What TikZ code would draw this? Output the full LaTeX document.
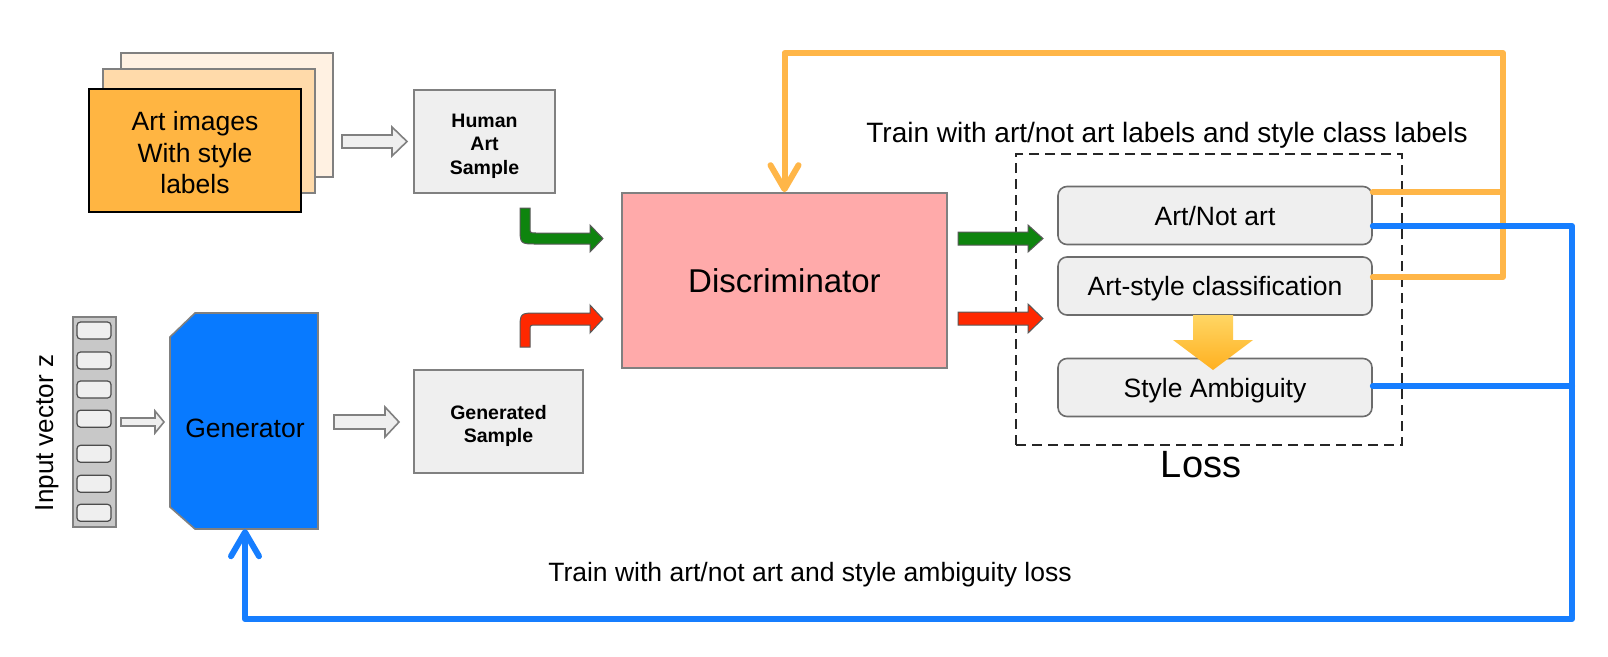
\documentclass[tikz,border=0pt]{standalone}
\usepackage{fontspec}
\setmainfont{Liberation Sans}
\usetikzlibrary{arrows.meta,calc}
\definecolor{gborder}{RGB}{128,128,128}
\definecolor{gfill}{RGB}{239,239,239}
\definecolor{cardA}{RGB}{255,241,226}
\definecolor{cardB}{RGB}{255,218,170}
\definecolor{cardC}{RGB}{255,181,66}
\definecolor{pinkD}{RGB}{255,170,170}
\definecolor{genblue}{RGB}{8,122,255}
\definecolor{lineblue}{RGB}{22,126,255}
\definecolor{lineorange}{RGB}{255,182,72}
\definecolor{arrgreen}{RGB}{14,132,14}
\definecolor{arrred}{RGB}{255,40,0}
\definecolor{vecgray}{RGB}{200,200,200}
\definecolor{blocktop}{RGB}{255,214,100}
\definecolor{blockbot}{RGB}{255,176,32}
\tikzset{
  card/.style={draw=gborder, line width=1.6pt, minimum width=212pt, minimum height=124pt, inner sep=0pt},
  samplebox/.style={draw=gborder, fill=gfill, line width=1.6pt, inner sep=0pt},
  sampletext/.style={align=center, inner sep=0pt, font=\fontsize{19.5}{23.5}\selectfont\bfseries},
  lossitem/.style={draw=gray!85!black, fill=gfill, line width=1.6pt, rounded corners=9pt,
    minimum width=314pt, minimum height=58pt, inner sep=0pt,
    font=\fontsize{26.5}{30}\selectfont, text height=19pt, text depth=0pt},
  hollow/.style={draw=gborder, fill=gfill, line width=1.6pt, line join=miter},
  bent/.style={draw=gray!70!black, line width=1pt},
  feedback/.style={line width=6pt, line join=round, line cap=round},
  chevron/.style={-{Straight Barb[length=24pt,width=28pt,line cap=round,line join=round]}},
  plain/.style={font=\fontsize{26.5}{30}\selectfont, inner sep=0pt},
  cell/.style={draw=black!70, fill=gfill, line width=1.2pt, rounded corners=3.5pt,
    minimum width=34pt, minimum height=17pt, inner sep=0pt}
}
\begin{document}
\begin{tikzpicture}[x=1pt,y=-1pt]
\useasboundingbox[fill=white] (0,0) rectangle (1608,656);

% stacked art cards
\node[card, fill=cardA] (cardback) at (227,115) {};
\node[card, fill=cardB] (cardmid) at (209,131) {};
\node[card, fill=cardC, draw=black, line width=2.4pt, minimum height=123pt] (cards) at (195,150.5) {};
\node[align=center, inner sep=0pt, font=\fontsize{26.5}{31.5}\selectfont] (cardtext) at (195,153) {Art images\\With style\\labels};

% sample boxes
\node[samplebox, minimum width=141pt, minimum height=103pt] (human) at (484.5,141.5) {};
\node[sampletext] (humantext) at (484.5,146) {Human\\Art\\Sample};
\node[samplebox, minimum width=169pt, minimum height=103pt] (generated) at (498.5,421.5) {};
\node[sampletext] (gentext2) at (498.5,426) {Generated\\Sample};

% discriminator
\node[draw=gborder, fill=pinkD, line width=1.6pt, minimum width=325pt, minimum height=175pt,
  font=\fontsize{33}{36}\selectfont, text height=23.6pt, text depth=0pt] (disc) at (784.5,280.5) {Discriminator};

% input vector
\node[draw=gborder, fill=vecgray, line width=1.6pt, minimum width=43pt, minimum height=210pt, inner sep=0pt] (vec) at (94.5,422) {};
\foreach \yy [count=\i] in {330.5,360.5,389.5,418.7,453.8,483.8,512.8}
  \node[cell] (cell\i) at (94,\yy) {};
\node[plain, rotate=90, font=\fontsize{26}{30}\selectfont] (veclabel) at (47,433) {Input vector z};

% generator
\node[minimum width=148pt, minimum height=216pt, inner sep=0pt] (gen) at (244,421) {};
\draw[draw=gborder, fill=genblue, line width=1.6pt]
  (195,313) -- (318,313) -- (318,529) -- (195,529) -- (170,507) -- (170,337) -- cycle;
\node[plain, text height=19pt, text depth=0pt] (gentext) at (245,427.5) {Generator};

% hollow arrows
\draw[hollow] (342,135) -- (392,135) -- (392,127) -- (407,141.5) -- (392,156) -- (392,148) -- (342,148) -- cycle;
\draw[hollow] (121,418) -- (155,418) -- (155,411) -- (164,422) -- (155,433) -- (155,426) -- (121,426) -- cycle;
\draw[hollow] (334,415) -- (385,415) -- (385,407) -- (399,422) -- (385,437) -- (385,429) -- (334,429) -- cycle;

% bent arrows into discriminator
\draw[bent, fill=arrgreen] (520,208) -- (530,208) -- (530,227) .. controls (530,233) .. (536,233)
  -- (590,233) -- (590,225) -- (603,238.5) -- (590,252) -- (590,244) -- (537,244)
  .. controls (520,244) .. (520,227) -- cycle;
\draw[bent, fill=arrred] (520,347) -- (520,330) .. controls (520,313) .. (537,313)
  -- (590,313) -- (590,305) -- (603,319) -- (590,333) -- (590,325) -- (536,325)
  .. controls (530,325) .. (530,331) -- (530,347) -- cycle;

% loss region
\node[draw=black!85, line width=2.4pt, dash pattern=on 10pt off 6pt, minimum width=386pt,
  minimum height=291pt, inner sep=0pt] (lossbox) at (1209,299.5) {};
\node[lossitem] (notart) at (1215,215.5) {Art/Not art};
\node[lossitem] (artstyle) at (1215,286) {Art-style classification};
\node[lossitem] (ambig) at (1215,387.5) {Style Ambiguity};
\node[plain, font=\fontsize{38}{42}\selectfont, text height=27pt, text depth=0pt] (losslabel) at (1201,464) {Loss};

% straight arrows out of discriminator
\draw[bent, fill=arrgreen] (958,232) -- (1028,232) -- (1028,225) -- (1043,238.5) -- (1028,252) -- (1028,245) -- (958,245) -- cycle;
\draw[bent, fill=arrred] (958,312) -- (1028,312) -- (1028,304) -- (1043,318.5) -- (1028,333) -- (1028,325) -- (958,325) -- cycle;

% yellow block arrow
\shade[top color=blocktop, bottom color=blockbot, draw=none]
  (1193,315) -- (1233,315) -- (1233,340) -- (1253,340) -- (1213,370) -- (1173,340) -- (1193,340) -- cycle;
\node[lossitem, draw=none, fill=none] at (1215,387.5) {};

% texts
\node[plain, anchor=base, font=\fontsize{28}{31}\selectfont] (toptext) at (1167,142) {Train with art/not art labels and style class labels};
\node[plain, anchor=base] (bottext) at (810,581) {Train with art/not art and style ambiguity loss};

% feedback lines
\coordinate (oTopR) at (1503,53);
\coordinate (bBotR) at (1572,619);
\draw[feedback, lineorange] ([yshift=23.5pt]notart.east) -- ([yshift=23.5pt]notart.east -| oTopR);
\draw[feedback, lineorange, chevron] ([yshift=9pt]artstyle.east) -| (oTopR) -| (disc.north);
\draw[feedback, lineblue] ([yshift=1.5pt]ambig.east) -- ([yshift=1.5pt]ambig.east -| bBotR);
\draw[feedback, lineblue, chevron] ([yshift=-10.5pt]notart.east) -| (bBotR) -| ([xshift=1pt]gen.south);
\end{tikzpicture}
\end{document}
